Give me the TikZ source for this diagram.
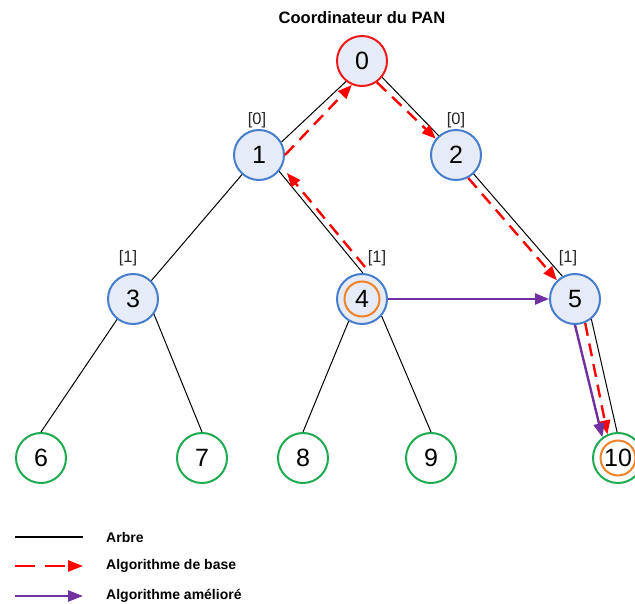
\documentclass[tikz,border=0pt]{standalone}
\usepackage{fontspec}
\setmainfont{Liberation Sans}
\usetikzlibrary{arrows.meta,calc}
\definecolor{nblue}{RGB}{70,125,205}
\definecolor{nfill}{RGB}{230,236,247}
\definecolor{nred}{RGB}{240,25,25}
\definecolor{ngreen}{RGB}{30,170,80}
\definecolor{norange}{RGB}{240,130,40}
\definecolor{npurple}{RGB}{112,48,160}
\begin{document}
\begin{tikzpicture}[x=1pt,y=-1pt,
  inner/.style={circle,draw=nblue,fill=nfill,line width=2pt,minimum size=50pt,inner sep=0pt,font=\fontsize{25}{25}\selectfont},
  leaf/.style={circle,draw=ngreen,fill=white,line width=2pt,minimum size=50pt,inner sep=0pt,font=\fontsize{25}{25}\selectfont},
  ring/.style={circle,draw=norange,line width=2pt,minimum size=35pt,inner sep=0pt},
  tree/.style={black,line width=1pt},
  base/.style={red,line width=2.4pt,dash pattern=on 13pt off 8pt,-{Triangle[length=14pt,width=11pt]}},
  better/.style={npurple,line width=2.4pt,-{Triangle[length=14pt,width=11pt]}},
  lbl/.style={font=\fontsize{16.5}{16.5}\selectfont,text=black!85,inner sep=0pt},
  leg/.style={font=\bfseries\fontsize{14}{14}\selectfont,anchor=west,inner sep=0pt}]
\useasboundingbox (0,0) rectangle (635,604);
% nodes
\node[inner,draw=nred] (n0) at (362,61) {0};
\node[inner] (n1) at (259,155) {1};
\node[inner] (n2) at (456,155) {2};
\node[inner] (n3) at (133,299) {3};
\node[inner] (n4) at (362,299) {4};
\node[inner] (n5) at (575,299) {5};
\node[leaf] (n6) at (41,458) {6};
\node[leaf] (n7) at (202,458) {7};
\node[leaf] (n8) at (303,458) {8};
\node[leaf] (n9) at (431,458) {9};
\node[leaf] (n10) at (618,458) {10};
\node[ring] (r4) at (n4) {};
\node[ring] (r10) at (n10) {};
% title and labels
\node[font=\bfseries\fontsize{16.5}{16.5}\selectfont,inner sep=0pt] (title) at (362,18) {Coordinateur du PAN};
\node[lbl] (l1) at (257,120) {[0]};
\node[lbl] (l2) at (456,120) {[0]};
\node[lbl] (l3) at (128,258) {[1]};
\node[lbl] (l4) at (377,258) {[1]};
\node[lbl] (l5) at (568,258) {[1]};
% tree edges
\draw[tree] (n0.-128) -- (n1.30);
\draw[tree] (n0.-39) -- (n2.132);
\draw[tree] (n1.-131) -- (n3.45);
\draw[tree] (n1.-39) -- (n4.88);
\draw[tree] (n2.-47) -- (n5.119);
\draw[tree] (n3.-128) -- (n6.north);
\draw[tree] (n3.-36) -- (n7.north);
\draw[tree] (n4.-121) -- (n8.north);
\draw[tree] (n4.-41) -- (n9.north);
\draw[tree] (n5.-51) -- (n10.92);
% basic algorithm
\draw[base] ($(n4)+(3,-32)$) -- ($(n1)+(28,18)$);
\draw[base] (n1.0) -- (n0.-113);
\draw[base] (n0.-55) -- (n2.141);
\draw[base] (n2.-62) -- (n5.134);
\draw[base] (n5.-67) -- (n10.114);
% improved algorithm
\draw[better] (n4.east) -- (n5.west);
\draw[better] (n5.-90) -- (n10.127);
% legend
\coordinate (a1) at (15,537); \coordinate (a2) at (83,537);
\coordinate (b1) at (15,566); \coordinate (b2) at (83,566);
\coordinate (c1) at (15,596); \coordinate (c2) at (83,596);
\draw[black,line width=1.5pt] (a1) -- (a2);
\draw[red,line width=2.4pt,dash pattern=on 20pt off 10pt,-{Triangle[length=15pt,width=11pt]}] (b1) -- (b2);
\draw[better,-{Triangle[length=15pt,width=11pt]}] (c1) -- (c2);
\node[leg] (t1) at (106,537) {Arbre};
\node[leg] (t2) at (106,566) {Algorithme de base};
\node[leg] (t3) at (106,596) {Algorithme amélioré};
\end{tikzpicture}
\end{document}
